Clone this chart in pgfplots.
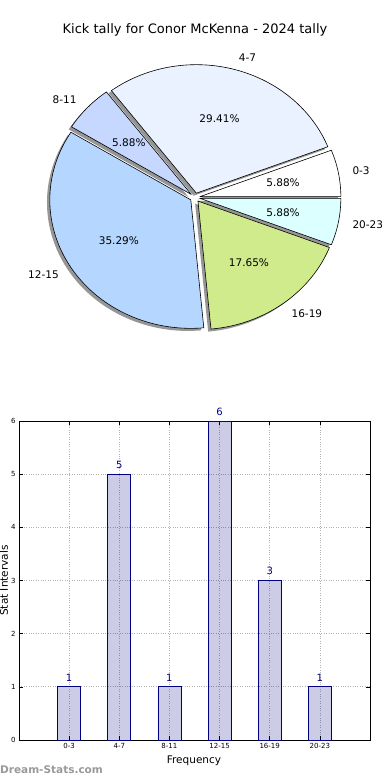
\documentclass[border=0pt]{standalone}
\usepackage{pgfplots}
\pgfplotsset{compat=1.18}
\usepackage{pgfplotstable}
\usepackage{fontspec}
\setmainfont{DejaVu Sans}

\definecolor{c0}{RGB}{255,255,255}
\definecolor{c1}{RGB}{234,242,255}
\definecolor{c2}{RGB}{198,216,255}
\definecolor{c3}{RGB}{180,214,255}
\definecolor{c4}{RGB}{208,235,139}
\definecolor{c5}{RGB}{220,255,255}
\definecolor{baredge}{RGB}{0,0,128}
\definecolor{shadowgray}{RGB}{150,150,150}

\pgfplotstableread{
x label value
0 0-3 1
1 4-7 5
2 8-11 1
3 12-15 6
4 16-19 3
5 20-23 1
}\kickdata

\newcommand\pielabfont{\fontsize{10.5}{12}\selectfont}
\def\ex{0.035}

\newcommand\pieslices[1]{%
 \def\cum{0}%
 \pgfplotsforeachungrouped \i in {0,...,5}{%
  \pgfplotstablegetelem{\i}{value}\of\kickdata \let\v\pgfplotsretval
  \pgfplotstablegetelem{\i}{label}\of\kickdata \let\lab\pgfplotsretval
  \pgfmathsetmacro\a{360*\cum/\total}%
  \pgfmathsetmacro\cum{\cum+\v}%
  \pgfmathsetmacro\b{360*\cum/\total}%
  \pgfmathsetmacro\m{(\a+\b)/2}%
  \pgfmathsetmacro\cx{\ex*cos(\m)}%
  \pgfmathsetmacro\cy{\ex*sin(\m)}%
  \ifnum#1=0
    \pgfmathsetmacro\sx{\cx-0.02}%
    \pgfmathsetmacro\sy{\cy-0.02}%
    \edef\temp{\noexpand\addplot[draw=none, fill=shadowgray, domain=\a:\b, samples=90] ({\sx+cos(x)},{\sy+sin(x)}) -- (\sx,\sy) -- cycle;}\temp
  \else
    \edef\temp{\noexpand\addplot[draw=black, line width=0.6pt, line join=round, fill=c\i, domain=\a:\b, samples=90] ({\cx+cos(x)},{\cy+sin(x)}) -- (\cx,\cy) -- cycle;}\temp
    \pgfmathsetmacro\lx{\cx+1.1*cos(\m)}%
    \pgfmathsetmacro\ly{\cy+1.1*sin(\m)}%
    \pgfmathsetmacro\px{\cx+0.6*cos(\m)}%
    \pgfmathsetmacro\py{\cy+0.6*sin(\m)}%
    \pgfmathsetmacro\cm{cos(\m)}%
    \ifdim\cm pt>0pt \def\anc{west}\else\def\anc{east}\fi
    \pgfmathsetmacro\pct{100*\v/\total}%
    \pgfmathprintnumberto[fixed,fixed zerofill,precision=2,assume math mode=true]{\pct}{\pcttxt}%
    \edef\temp{\noexpand\node[anchor=\anc, font=\noexpand\pielabfont, inner sep=0pt] at (\lx,\ly) {\lab};
      \noexpand\node[font=\noexpand\pielabfont, inner sep=0pt] at (\px,\py) {\unexpanded\expandafter{\pcttxt}\noexpand\%};}\temp
  \fi}}

\begin{document}
\begin{tikzpicture}
\useasboundingbox (0,0) rectangle (390pt,780pt);
\gdef\total{0}
\pgfplotsforeachungrouped \i in {0,...,5}{\pgfplotstablegetelem{\i}{value}\of\kickdata \pgfmathsetmacro\total{\total+\pgfplotsretval}}

\node[font=\fontsize{13}{15}\selectfont] at (195pt,750.5pt) {Kick tally for Conor McKenna - 2024 tally};

\begin{axis}[at={(195pt,582.5pt)}, anchor=center, x=141pt, y=128.5pt,
  xmin=-1.3, xmax=1.3, ymin=-1.3, ymax=1.3, hide axis, clip=false]
\pieslices{0}
\pieslices{1}
\end{axis}

\begin{axis}[at={(19pt,40pt)}, anchor=south west, scale only axis,
  width=351pt, height=319pt,
  xmin=-1, xmax=6, ymin=0, ymax=6,
  xtick={0,...,5}, xticklabels from table={\kickdata}{label},
  ytick={0,...,6},
  tick align=inside, tick pos=both, major tick length=4pt,
  grid=major, grid style={line width=0.7pt, dash pattern=on 0.8pt off 1.6pt, black!30},
  axis line style={line width=0.8pt},
  tick style={black, line width=0.6pt},
  tick label style={font=\fontsize{7}{8}\selectfont},
  /pgf/number format/assume math mode=true,
  xlabel={Frequency},
  xlabel style={at={(axis description cs:0.4986,-0.0658)}, anchor=center, font=\fontsize{10.5}{12}\selectfont},
  ylabel={Stat Intervals},
  ylabel style={at={(axis description cs:-0.0425,0.5)}, anchor=center, font=\fontsize{10.5}{12}\selectfont},
  clip=false]
\addplot[ybar, bar width=23pt, fill=baredge, fill opacity=0.2, draw=baredge, draw opacity=1, line width=0.8pt,
  nodes near coords,
  nodes near coords style={anchor=south, inner sep=0pt, yshift=5.3pt, font=\fontsize{10}{12}\selectfont, text=baredge, text opacity=1, fill opacity=1}]
  table[x=x, y=value]{\kickdata};
\end{axis}

\node[anchor=west, inner sep=0pt, font=\bfseries\fontsize{10.5}{12}\selectfont, text=black!40] at (0pt,10pt) {Dream-Stats.com};
\end{tikzpicture}
\end{document}
